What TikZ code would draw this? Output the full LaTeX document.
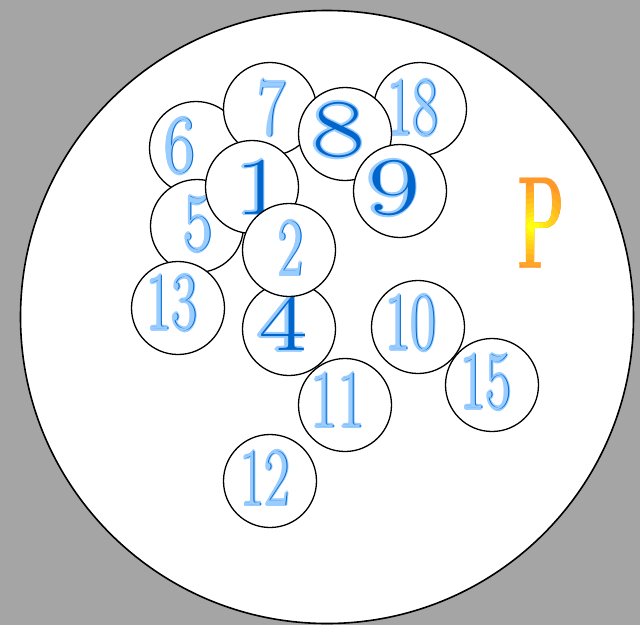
\documentclass[tikz,border=0pt]{standalone}
\definecolor{bg}{HTML}{A5A5A5}
\definecolor{lb}{HTML}{99CCFF}
\definecolor{db}{HTML}{0066CC}
\definecolor{porange}{HTML}{FF9A2A}
\definecolor{pyellow}{HTML}{FFFF10}
\newcommand\halo[1]{%
 \rlap{\kern1.6pt#1}\rlap{\kern-1.6pt#1}%
 \rlap{\raisebox{1.6pt}{#1}}\rlap{\raisebox{-1.6pt}{#1}}%
 \rlap{\kern1.1pt\raisebox{1.1pt}{#1}}\rlap{\kern-1.1pt\raisebox{1.1pt}{#1}}%
 \rlap{\kern1.1pt\raisebox{-1.1pt}{#1}}\rlap{\kern-1.1pt\raisebox{-1.1pt}{#1}}}
\newcommand\lightnum[2]{\scalebox{#1}[1]{\fontsize{82}{82}\selectfont
 {\color{lb}\halo{#2}}\rlap{\kern1.1pt\color{db}#2}\rlap{\kern-0.4pt\color{lb}#2}\phantom{#2}}}
\newcommand\darknum[2]{\scalebox{#1}[1]{\fontsize{82}{82}\selectfont
 {\color{lb}\halo{#2}}\rlap{\kern0.9pt\color{db}#2}\phantom{#2}}}
\newcommand\bigP[1]{\scalebox{0.47}[1]{\fontsize{132}{132}\selectfont\bfseries\color{#1}P}}
\begin{document}
\begin{tikzpicture}[x=1pt,y=-1pt,
  ball/.style={circle, draw, line width=1.3pt, fill=white, minimum size=93pt, inner sep=0pt},
  lbl/.style={inner sep=0pt}]
\useasboundingbox (0,0) rectangle (640,625);
\fill[bg] (0,0) rectangle (640,625);
\node[circle, draw, line width=1.6pt, fill=white, minimum size=613pt, inner sep=0pt] (dish) at (327,317) {};
% balls in stacking order
\node[ball] (b6) at (196,148) {};
\node[lbl] (t6) at (180,146) {\lightnum{0.82}{6}};
\node[ball] (b7) at (270,109) {};
\node[lbl] (t7) at (272,108) {\lightnum{0.74}{7}};
\node[ball] (b18) at (420,109) {};
\node[lbl] (t18) at (413,108) {\lightnum{0.68}{18}};
\node[ball] (b8) at (345,134) {};
\node[lbl] (t8) at (338,130) {\darknum{1.4}{8}};
\node[ball] (b9) at (400,191) {};
\node[lbl] (t9) at (393,188) {\darknum{1.38}{9}};
\node[ball] (b5) at (197,226) {};
\node[lbl] (t5) at (198,224) {\lightnum{0.78}{5}};
\node[ball] (b1) at (252,187) {};
\node[lbl] (t1) at (259,187) {\darknum{1.3}{1}};
\node[ball] (b13) at (178,308) {};
\node[lbl] (t13) at (172,303) {\lightnum{0.68}{13}};
\node[ball] (b4) at (289,329) {};
\node[lbl] (t4) at (282,323) {\darknum{1.28}{4}};
\node[ball] (b2) at (289,250) {};
\node[lbl] (t2) at (291,248) {\lightnum{0.66}{2}};
\node[ball] (b10) at (418,327) {};
\node[lbl] (t10) at (411,323) {\lightnum{0.68}{10}};
\node[ball] (b15) at (492,385) {};
\node[lbl] (t15) at (486,382) {\lightnum{0.68}{15}};
\node[ball] (b11) at (345,405) {};
\node[lbl] (t11) at (338,400) {\lightnum{0.72}{11}};
\node[ball] (b12) at (270,481) {};
\node[lbl] (t12) at (265,478) {\lightnum{0.66}{12}};
% gradient P (layered radial approximation)
\coordinate (pc) at (533,226);
\node[lbl] (P) at (541,223) {\bigP{porange}};
\foreach \r/\m [count=\k] in {40/12, 34/25, 28/38, 23/50, 18/62, 14/74, 10/86, 6/100}{
  \begin{scope}
    \clip (pc) circle (\r);
    \node[lbl] (P\k) at (541,223) {\bigP{pyellow!\m!porange}};
  \end{scope}
}
\end{tikzpicture}
\end{document}
